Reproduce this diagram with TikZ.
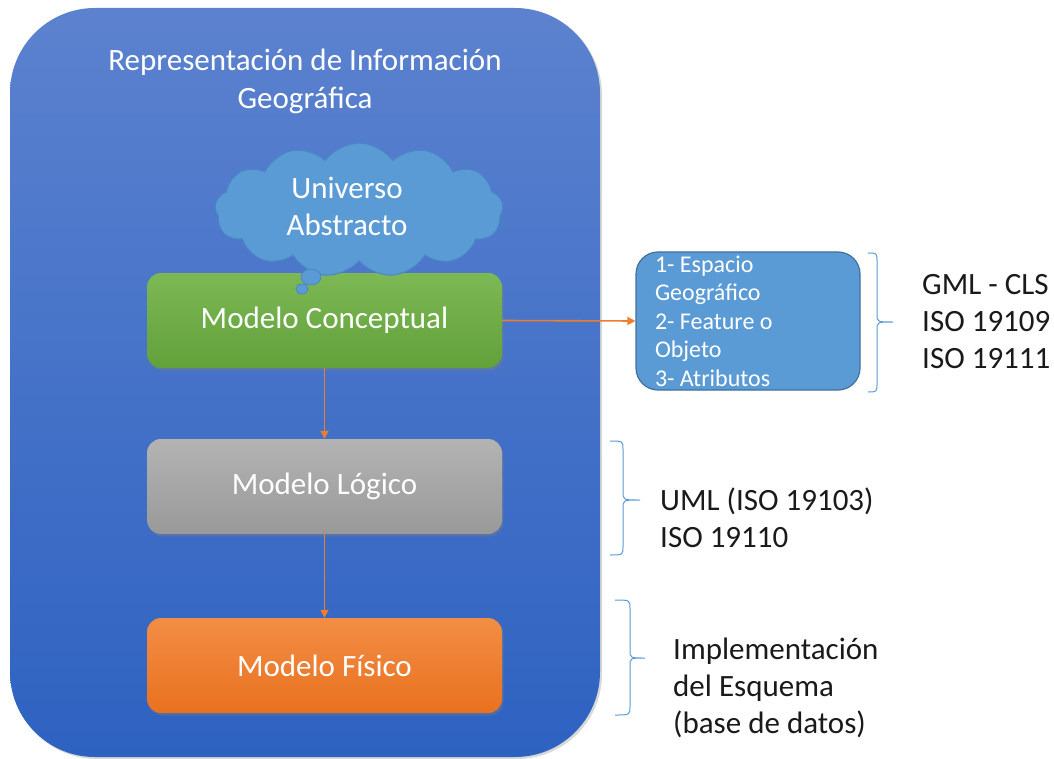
\documentclass[tikz,border=0pt]{standalone}
\usepackage{fontspec}
\setmainfont{Carlito}
\usetikzlibrary{shapes.symbols,arrows.meta,shadows}
\definecolor{mainTop}{HTML}{5C82CF}
\definecolor{mainBot}{HTML}{2E62C1}
\definecolor{greenTop}{HTML}{7CB955}
\definecolor{greenBot}{HTML}{62A03A}
\definecolor{grayTop}{HTML}{B3B3B3}
\definecolor{grayBot}{HTML}{999999}
\definecolor{orangeTop}{HTML}{F28D45}
\definecolor{orangeBot}{HTML}{E9711F}
\definecolor{cloudf}{HTML}{5B9BD5}
\definecolor{cloudb}{HTML}{4A86C5}
\definecolor{smallb}{HTML}{41719C}
\definecolor{arrowc}{HTML}{ED7D31}
\definecolor{bracecol}{HTML}{5B9BD5}
\definecolor{inktext}{HTML}{1A1A1A}
\newcommand\mybrace[6]{%
  \draw[bracec] (#1,#4) .. controls (#2,#4) .. (#2,#4+9) -- (#2,#5-8)
    .. controls (#2,#5) .. (#3,#5)
    .. controls (#2,#5) .. (#2,#5+8) -- (#2,#6-9)
    .. controls (#2,#6) .. (#1,#6);}
\begin{document}
\begin{tikzpicture}[x=1pt,y=-1pt,
  modelbox/.style={rounded corners=14pt, minimum width=355pt, minimum height=95pt,
    font=\fontsize{31}{37}\selectfont, text=white, inner sep=0pt,
    drop shadow={opacity=0.35, shadow xshift=1.5pt, shadow yshift=-2.5pt}},
  flow/.style={draw=arrowc, line width=1.6pt, -{Triangle[length=8pt,width=8pt]}},
  bracec/.style={draw=bracecol, line width=1pt},
  sidetext/.style={anchor=west, align=left, inner sep=0pt, text=inktext,
    font=\fontsize{31}{37}\selectfont},
]
\useasboundingbox (0,0) rectangle (1054,759);
\fill[white] (0,0) rectangle (1054,759);

% outer container
\node[rounded corners=85pt, minimum width=590pt, minimum height=749pt,
  top color=mainTop, bottom color=mainBot, inner sep=0pt,
  drop shadow={opacity=0.3, shadow xshift=2pt, shadow yshift=-2pt}] (main) at (305,382.5) {};
\node[align=center, text=white, inner sep=0pt, font=\fontsize{31}{38}\selectfont]
  (title) at (305,81) {Representación de Información\\Geográfica};

% model boxes
\node[modelbox, top color=greenTop, bottom color=greenBot] (conc) at (324.5,320.5) {Modelo Conceptual};
\node[modelbox, top color=grayTop, bottom color=grayBot] (logi) at (324.5,486.5) {Modelo Lógico};
\node[modelbox, top color=orangeTop, bottom color=orangeBot] (fisi) at (324.5,665.5) {Modelo Físico};

% cloud
\node[cloud, cloud puffs=13, cloud puff arc=110, draw=cloudb, line width=1pt, fill=cloudf,
  minimum width=288pt, minimum height=134pt, cloud ignores aspect, inner sep=0pt] (cloud) at (359,210) {};
\node[align=center, text=white, inner sep=0pt, font=\fontsize{31}{37}\selectfont]
  (cloudtxt) at (347,206) {Universo\\Abstracto};
\draw[draw=cloudb, fill=cloudf, line width=0.8pt] (311,277) ellipse [x radius=10pt, y radius=8pt];
\draw[draw=cloudb, fill=cloudf, line width=0.8pt] (302,289) ellipse [x radius=6pt, y radius=5pt];

% feature box
\node[draw=smallb, line width=1.2pt, fill=cloudf, rounded corners=22pt,
  minimum width=224pt, minimum height=138pt, text width=186pt, inner xsep=19pt, inner ysep=0pt,
  align=flush left, text=white, font=\fontsize{24}{28.5}\selectfont] (feat) at (748,321)
  {1- Espacio\\Geográfico\\2- Feature o\\Objeto\\3- Atributos};

% connectors
\draw[flow] (conc.south) -- (logi.north);
\draw[flow] (logi.south) -- (fisi.north);
\draw[flow] (conc.east) -- (feat.west);

% braces
\mybrace{868}{877}{893}{253}{322}{392}
\mybrace{610}{623}{640}{441}{500}{555}
\mybrace{615}{630}{645}{600}{658}{715}

% side labels
\node[sidetext] (gml) at (922,322) {GML - CLS\\ISO 19109\\ISO 19111};
\node[sidetext] (uml) at (660,518) {UML (ISO 19103)\\ISO 19110};
\node[sidetext] (impl) at (673,688) {Implementación\\del Esquema\\(base de datos)};
\end{tikzpicture}
\end{document}
